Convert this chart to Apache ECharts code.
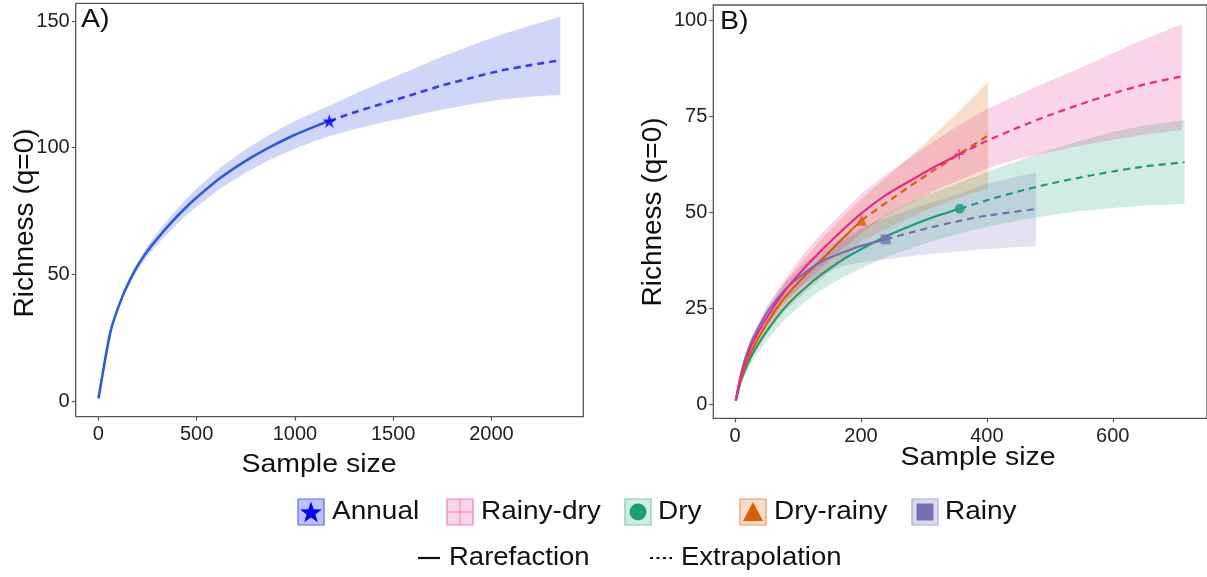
<!DOCTYPE html>
<html>
<head>
<meta charset="utf-8">
<script src="https://cdn.jsdelivr.net/npm/echarts@6/dist/echarts.min.js"></script>
<style>
  html, body { margin: 0; padding: 0; background: #ffffff; }
  #chart { width: 1207px; height: 577px; }
</style>
</head>
<body>
<div id="chart"></div>
<script>
// ---------- Panel A: annual sample ----------
const annualRareX = [1, 62, 124, 186, 248, 310, 372, 434, 496, 620, 744, 868, 992, 1116, 1175];
const annualRareY = [1, 27.4, 41.5, 51.5, 59, 65, 70.5, 75.5, 80, 88, 94.5, 100, 104.8, 108.8, 110.5];
const annualExtX = [1175, 1300, 1450, 1600, 1750, 1900, 2050, 2200, 2350];
const annualExtY = [110.5, 113.9, 117.5, 121, 124.6, 127.6, 130.5, 132.6, 134.5];
const annualBandX = [1, 62, 124, 186, 248, 310, 372, 434, 496, 620, 744, 868, 992, 1116, 1175, 1300, 1450, 1600, 1750, 1900, 2050, 2200, 2350];
const annualBandLo = [1, 26.9, 40.5, 50, 57, 62.6, 67.7, 72.3, 76.4, 83.9, 89.9, 95, 99.4, 103, 104.5, 107.3, 110, 112.5, 115.1, 117.1, 119, 120.1, 120.9];
const annualBandHi = [1, 27.9, 42.5, 53, 61, 67.4, 73.3, 78.7, 83.6, 92.1, 99.1, 105, 110.2, 114.6, 116.5, 121.1, 126.1, 131, 136, 140.4, 144.7, 148.2, 151.7];

// ---------- Panel B: seasonal samples ----------
const rainyDryRareX = [1, 10, 25, 50, 80, 110, 140, 170, 200, 240, 289, 320, 356];
const rainyDryRareY = [1, 7.8, 15, 22.5, 29.8, 35.5, 40.6, 45.3, 49.7, 54.6, 59.3, 62.2, 65.2];
const rainyDryExtX = [356, 400, 450, 500, 550, 600, 650, 710];
const rainyDryExtY = [65.2, 68.7, 72.2, 75.4, 78.3, 81, 83.4, 85.5];
const rainyDryBandX = [1, 10, 25, 50, 80, 110, 140, 170, 200, 240, 289, 320, 356, 400, 450, 500, 550, 600, 650, 710];
const rainyDryBandLo = [1, 7, 13.5, 20, 26.5, 31.5, 36, 40.5, 44.6, 49.2, 53.3, 56, 58.5, 61.5, 64, 65.8, 67.5, 69, 70.3, 71.5];
const rainyDryBandHi = [1, 8.5, 16.5, 25, 33, 39.5, 45, 50, 54.8, 60, 65.5, 69, 72.8, 77, 80.7, 84.3, 87.8, 91.5, 95.2, 99.1];

const dryRareX = [1, 10, 25, 50, 80, 110, 140, 170, 200, 240, 289, 320, 357];
const dryRareY = [1, 6.5, 12.3, 19, 25.4, 30.2, 34.2, 37.6, 40.4, 43.8, 47.2, 49.1, 51.0];
const dryExtX = [357, 400, 450, 500, 550, 600, 650, 714];
const dryExtY = [51.0, 53.2, 55.5, 57.5, 59.2, 60.7, 62, 63.1];
const dryBandX = [1, 10, 25, 50, 80, 110, 140, 170, 200, 240, 289, 320, 357, 400, 450, 500, 550, 600, 650, 714];
const dryBandLo = [1, 5.5, 10.7, 16.6, 22.4, 26.6, 30.1, 33, 35.4, 38.4, 41.2, 42.9, 44.5, 46.3, 47.9, 49.3, 50.4, 51.2, 51.8, 52.2];
const dryBandHi = [1, 7.5, 14, 21.5, 28.5, 34, 38.5, 42.5, 45.5, 49.5, 53.5, 55.5, 57.8, 60.5, 63.5, 66.3, 68.8, 71, 72.7, 74.1];

const dryRainyRareX = [1, 10, 25, 50, 80, 110, 140, 170, 201];
const dryRainyRareY = [1, 7, 13.5, 21, 28.1, 33.4, 38.1, 43.1, 48.0];
const dryRainyExtX = [201, 250, 300, 350, 402];
const dryRainyExtY = [48.0, 53.7, 59.3, 64.6, 70.1];
const dryRainyBandX = [1, 10, 25, 50, 80, 110, 140, 170, 201, 250, 300, 350, 402];
const dryRainyBandLo = [1, 6, 11.8, 18.3, 24.5, 29, 33, 37.5, 42.5, 46.5, 50.3, 53.5, 56.3];
const dryRainyBandHi = [1, 8, 15.5, 24, 32, 38, 43.5, 48.5, 53.5, 60.5, 67.8, 75.5, 84.1];

const rainyRareX = [1, 10, 25, 50, 80, 110, 140, 170, 200, 239];
const rainyRareY = [1, 8.5, 16, 23.8, 30, 34.2, 37.5, 39.5, 41.3, 43.0];
const rainyExtX = [239, 300, 350, 400, 478];
const rainyExtY = [43.0, 45.7, 47.6, 49.2, 50.9];
const rainyBandX = [1, 10, 25, 50, 80, 110, 140, 170, 200, 239, 300, 350, 400, 478];
const rainyBandLo = [1, 7.5, 14.5, 21.8, 27.5, 31.2, 34, 35.9, 37, 37.8, 39, 39.8, 40.5, 41.3];
const rainyBandHi = [1, 9.5, 17.5, 25.5, 32, 36.8, 40.5, 43.5, 46, 48.5, 52, 54.5, 57.5, 60.5];

// ---------- Axis ticks ----------
const ticksAx = [0, 500, 1000, 1500, 2000];
const ticksAy = [0, 50, 100, 150];
const ticksBx = [0, 200, 400, 600];
const ticksBy = [0, 25, 50, 75, 100];

// ---------- Text ----------
const yTitle = 'Richness (q=0)';
const xTitle = 'Sample size';
const legendLabels = ['Annual', 'Rainy-dry', 'Dry', 'Dry-rainy', 'Rainy'];
const methodLabels = ['Rarefaction', 'Extrapolation'];

const FONT = '"Liberation Sans", Arial, Helvetica, sans-serif';
const C = {
  annualLine: '#2e5bd6', annualDash: '#3c3ce0', annualStar: '#0000ff', annualBand: 'rgba(40,70,225,0.22)',
  rainyDry: '#e7298a', dry: '#1b9e77', dryRainy: '#d95f02', rainy: '#7570b3'
};
const STAR = 'M50,2 L61.8,36.2 L97.6,36.2 L68.6,57.4 L79.4,91.6 L50,70.6 L20.6,91.6 L31.4,57.4 L2.4,36.2 L38.2,36.2 Z';
const PLUS = 'M42,0 H58 V42 H100 V58 H58 V100 H42 V58 H0 V42 H42 Z';

const zip = (xs, ys) => xs.map((x, i) => [x, ys[i]]);

function band(ax, xs, lo, hi, fill) {
  const rows = xs.map((x, i) => [x, lo[i], hi[i]]);
  return {
    type: 'custom', xAxisIndex: ax, yAxisIndex: ax, silent: true, clip: true, z: 1,
    data: rows, encode: { x: 0, y: [1, 2] },
    renderItem(params, api) {
      if (params.dataIndex !== 0) return null;
      const upper = rows.map(r => api.coord([r[0], r[2]]));
      const lower = rows.slice().reverse().map(r => api.coord([r[0], r[1]]));
      return { type: 'polygon', shape: { points: upper.concat(lower) }, style: { fill: fill } };
    }
  };
}

function curve(ax, xs, ys, color, width, dashed) {
  return {
    type: 'line', xAxisIndex: ax, yAxisIndex: ax, data: zip(xs, ys),
    symbol: 'none', showSymbol: false, smooth: 0.2, silent: true, z: 3,
    lineStyle: { color: color, width: width, type: dashed ? [7, 5] : 'solid', cap: 'butt' }
  };
}

function observed(ax, xs, ys, symbol, size, color) {
  const i = xs.length - 1;
  return {
    type: 'scatter', xAxisIndex: ax, yAxisIndex: ax, data: [[xs[i], ys[i]]],
    symbol: symbol, symbolSize: size, itemStyle: { color: color }, silent: true, z: 5
  };
}

function valueAxis(grid, min, max, ticks, margin) {
  return {
    type: 'value', gridIndex: grid, min: min, max: max,
    axisLine: { show: false, onZero: false },
    axisTick: { show: true, inside: false, length: 4, customValues: ticks, lineStyle: { color: '#555', width: 1.2 } },
    axisLabel: { customValues: ticks, formatter: v => String(v), fontSize: 20, color: '#222', fontFamily: FONT, margin: margin },
    splitLine: { show: false }
  };
}

function text(str, x, y, size, opts) {
  opts = opts || {};
  return {
    type: 'text', x: x, y: y, rotation: opts.rotation || 0, scaleX: opts.scaleX || 1, silent: true,
    style: {
      text: str, fill: '#111', fontSize: size, fontFamily: FONT,
      align: opts.align || 'left', textAlign: opts.align || 'left',
      verticalAlign: opts.va || 'middle', textVerticalAlign: opts.va || 'middle'
    }
  };
}

// five-pointed star outline for the legend key, centred on (cx, cy)
function starPoints(cx, cy, R, r) {
  const pts = [];
  for (let k = 0; k < 10; k++) {
    const a = -Math.PI / 2 + k * Math.PI / 5;
    const rad = k % 2 === 0 ? R : r;
    pts.push([cx + rad * Math.cos(a), cy + rad * Math.sin(a)]);
  }
  return pts;
}

// Legend keys: filled box in ribbon colour with the group's point shape
const KEY_Y = 499, KEY = 26;
const keyDefs = [
  { box: 298, txt: 332, fill: 'rgba(60,80,240,0.35)', stroke: '#5a6af0', shape: 'star', color: C.annualStar },
  { box: 447, txt: 481, fill: 'rgba(231,41,138,0.2)', stroke: '#ee7fb5', shape: 'plus', color: C.rainyDry },
  { box: 625, txt: 658, fill: 'rgba(27,158,119,0.2)', stroke: '#7ccbb1', shape: 'circle', color: C.dry },
  { box: 740, txt: 774, fill: 'rgba(217,95,2,0.22)', stroke: '#e99a66', shape: 'triangle', color: C.dryRainy },
  { box: 912, txt: 945, fill: 'rgba(117,112,179,0.25)', stroke: '#aeaad2', shape: 'square', color: C.rainy }
];

const legendEls = [];
keyDefs.forEach((k, i) => {
  const cx = k.box + KEY / 2, cy = KEY_Y + KEY / 2;
  legendEls.push({ type: 'rect', silent: true, shape: { x: k.box, y: KEY_Y, width: KEY, height: KEY },
    style: { fill: k.fill, stroke: k.stroke, lineWidth: 1.2 } });
  if (k.shape === 'star') {
    legendEls.push({ type: 'polygon', silent: true, shape: { points: starPoints(cx, cy + 1, 11.5, 4.6) }, style: { fill: k.color } });
  } else if (k.shape === 'plus') {
    legendEls.push({ type: 'line', silent: true, shape: { x1: k.box, y1: cy, x2: k.box + KEY, y2: cy }, style: { stroke: '#f090c0', lineWidth: 1.2 } });
    legendEls.push({ type: 'line', silent: true, shape: { x1: cx, y1: KEY_Y, x2: cx, y2: KEY_Y + KEY }, style: { stroke: '#f090c0', lineWidth: 1.2 } });
  } else if (k.shape === 'circle') {
    legendEls.push({ type: 'circle', silent: true, shape: { cx: cx, cy: cy, r: 8.5 }, style: { fill: k.color } });
  } else if (k.shape === 'triangle') {
    legendEls.push({ type: 'polygon', silent: true, shape: { points: [[cx, cy - 10], [cx - 10, cy + 9], [cx + 10, cy + 9]] }, style: { fill: k.color } });
  } else {
    legendEls.push({ type: 'rect', silent: true, shape: { x: cx - 8.5, y: cy - 8.5, width: 17, height: 17 }, style: { fill: k.color } });
  }
  legendEls.push(text(legendLabels[i], k.txt, cy, 25, { scaleX: 1.12 }));
});
// line-type keys
legendEls.push({ type: 'line', silent: true, shape: { x1: 418, y1: 558, x2: 440, y2: 558 }, style: { stroke: '#111', lineWidth: 2.2 } });
legendEls.push(text(methodLabels[0], 449, 558, 25, { scaleX: 1.1 }));
legendEls.push({ type: 'line', silent: true, shape: { x1: 650, y1: 558, x2: 672, y2: 558 }, style: { stroke: '#111', lineWidth: 2.2, lineDash: [3, 3.5] } });
legendEls.push(text(methodLabels[1], 681, 558, 25, { scaleX: 1.1 }));

const option = {
  animation: false,
  backgroundColor: '#ffffff',
  grid: [
    { left: 75.7, top: 3.3, width: 507.6, height: 413.4, show: true, borderColor: '#555', borderWidth: 1.3, backgroundColor: 'transparent' },
    { left: 713.3, top: 5, width: 501.3, height: 413.3, show: true, borderColor: '#555', borderWidth: 1.3, backgroundColor: 'transparent' }
  ],
  xAxis: [valueAxis(0, -115, 2467, ticksAx, 8), valueAxis(1, -34.7, 749.7, ticksBx, 8)],
  yAxis: [valueAxis(0, -6.2, 157, ticksAy, 6), valueAxis(1, -3.65, 104.1, ticksBy, 6)],
  series: [
    band(0, annualBandX, annualBandLo, annualBandHi, C.annualBand),
    curve(0, annualRareX, annualRareY, C.annualLine, 2.6, false),
    curve(0, annualExtX, annualExtY, C.annualDash, 2.6, true),
    observed(0, annualRareX, annualRareY, 'path://' + STAR, 14, C.annualStar),

    band(1, dryBandX, dryBandLo, dryBandHi, 'rgba(27,158,119,0.2)'),
    band(1, dryRainyBandX, dryRainyBandLo, dryRainyBandHi, 'rgba(217,95,2,0.2)'),
    band(1, rainyBandX, rainyBandLo, rainyBandHi, 'rgba(117,112,179,0.2)'),
    band(1, rainyDryBandX, rainyDryBandLo, rainyDryBandHi, 'rgba(231,41,138,0.2)'),

    curve(1, dryRareX, dryRareY, C.dry, 2.2, false),
    curve(1, dryExtX, dryExtY, C.dry, 2.2, true),
    curve(1, dryRainyRareX, dryRainyRareY, C.dryRainy, 2.2, false),
    curve(1, dryRainyExtX, dryRainyExtY, C.dryRainy, 2.2, true),
    curve(1, rainyRareX, rainyRareY, C.rainy, 2.2, false),
    curve(1, rainyExtX, rainyExtY, C.rainy, 2.2, true),
    curve(1, rainyDryRareX, rainyDryRareY, C.rainyDry, 2.2, false),
    curve(1, rainyDryExtX, rainyDryExtY, C.rainyDry, 2.2, true),

    observed(1, dryRareX, dryRareY, 'circle', 10, C.dry),
    observed(1, dryRainyRareX, dryRainyRareY, 'triangle', 11, C.dryRainy),
    observed(1, rainyRareX, rainyRareY, 'rect', 10, C.rainy),
    observed(1, rainyDryRareX, rainyDryRareY, 'path://' + PLUS, 10, C.rainyDry)
  ],
  graphic: [
    text('A)', 81, 20, 26, { scaleX: 1.1 }),
    text('B)', 720, 22, 26, { scaleX: 1.1 }),
    text(yTitle, 25, 223, 28, { rotation: Math.PI / 2, align: 'center' }),
    text(yTitle, 653, 212, 28, { rotation: Math.PI / 2, align: 'center' }),
    text(xTitle, 319, 465, 25, { align: 'center', scaleX: 1.14 }),
    text(xTitle, 978, 458, 25, { align: 'center', scaleX: 1.14 })
  ].concat(legendEls)
};

const chart = echarts.init(document.getElementById('chart'), null, { renderer: 'canvas' });
chart.setOption(option);
</script>
</body>
</html>
